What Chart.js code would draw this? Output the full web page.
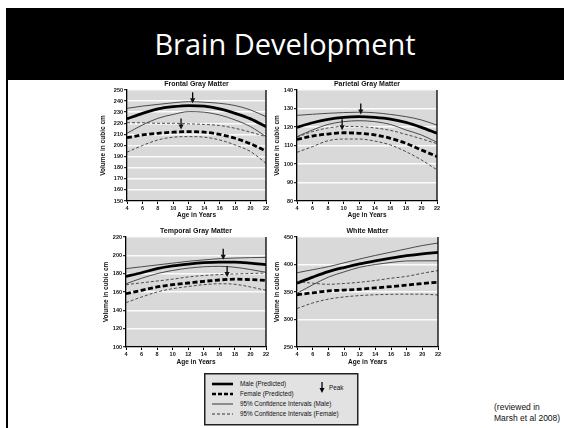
<!DOCTYPE html>
<html>
<head>
<meta charset="utf-8">
<script src="https://cdn.jsdelivr.net/npm/chart.js@4.4.0/dist/chart.umd.min.js"></script>
<style>
  html, body { margin: 0; padding: 0; background: #fff; }
  body { width: 564px; height: 428px; position: relative; overflow: hidden; }
  #banner { position: absolute; left: 6px; top: 8px; width: 558px; height: 72px; background: #000;
            color: #fff; font-family: "Open Sans", "Noto Sans", sans-serif; font-size: 29px;
            line-height: 72px; text-align: center; }
  #edge { position: absolute; left: 6px; top: 80px; width: 2px; height: 348px; background: #000; }
  canvas { position: absolute; }
  #legend { position: absolute; left: 204px; top: 373px; }
  #note { position: absolute; left: 494px; top: 402px; font-family: "Liberation Sans", Arial, sans-serif;
          font-size: 8.5px; line-height: 11px; color: #111; }
</style>
</head>
<body>
<div id="banner">Brain Development</div>
<div id="edge"></div>
<canvas id="frontal"></canvas>
<canvas id="parietal"></canvas>
<canvas id="temporal"></canvas>
<canvas id="white"></canvas>
<svg id="legend" width="156" height="54" xmlns="http://www.w3.org/2000/svg"
     font-family="Liberation Sans, Arial, sans-serif" font-size="6.3" fill="#111">
  <rect x="0.75" y="0.75" width="153" height="51" fill="#e2e2e2" stroke="#222" stroke-width="1.5"/>
  <line x1="8" y1="11" x2="29" y2="11" stroke="#000" stroke-width="2.6"/>
  <line x1="8" y1="21" x2="29" y2="21" stroke="#000" stroke-width="2.6" stroke-dasharray="4 2"/>
  <line x1="8" y1="31" x2="29" y2="31" stroke="#222" stroke-width="0.9"/>
  <line x1="8" y1="41" x2="29" y2="41" stroke="#222" stroke-width="0.9" stroke-dasharray="3 2"/>
  <text x="36" y="13.2">Male (Predicted)</text>
  <text x="36" y="23.2">Female (Predicted)</text>
  <text x="36" y="33.2">95% Confidence Intervals (Male)</text>
  <text x="36" y="43.2">95% Confidence Intervals (Female)</text>
  <line x1="118" y1="9" x2="118" y2="16" stroke="#000" stroke-width="1.3"/>
  <polygon points="115.5,15 120.5,15 118,20" fill="#000"/>
  <text x="125" y="17">Peak</text>
</svg>
<div id="note">(reviewed in<br>Marsh et al 2008)</div>

<script>
// Ages at which the fitted curves are sampled
const ages = [4, 6, 8, 10, 12, 14, 16, 18, 20, 22];

// Frontal gray matter (cubic cm)
const frontalMale        = [224, 229, 233, 235, 236, 235.5, 233, 229, 224, 217];
const frontalMaleUpper   = [233.5, 235.5, 237, 238.5, 239.5, 239, 238, 236, 232, 226];
const frontalMaleLower   = [211, 218.5, 224.5, 228, 230.5, 230, 227.5, 223, 217, 208];
const frontalFemale      = [207, 209.5, 211, 212, 212.5, 212, 210, 206.5, 201.5, 195];
const frontalFemaleUpper = [220.5, 220.5, 220, 220, 219.5, 219, 218, 215.5, 212, 208];
const frontalFemaleLower = [194, 200, 205, 207.5, 208, 207.5, 205, 200.5, 194.5, 184];
const frontalPeaks = [{ x: 12.5, y: 236 }, { x: 11, y: 212.5 }];

// Parietal gray matter
const parietalMale        = [119.8, 122.3, 124.1, 125.2, 125.6, 125.2, 124.3, 122.5, 119.8, 116.6];
const parietalMaleUpper   = [126.3, 126.9, 127.4, 127.8, 128, 127.7, 126.8, 125.6, 123.8, 121];
const parietalMaleLower   = [114.8, 118.4, 121.4, 122.9, 123.4, 122.9, 121.4, 118.4, 115.7, 111.7];
const parietalFemale      = [113.3, 115.1, 116.2, 116.9, 116.6, 115.7, 113.9, 111.2, 107.6, 104];
const parietalFemaleUpper = [114.5, 117.5, 119.5, 120.3, 120.2, 119.5, 118.2, 116, 113.6, 111];
const parietalFemaleLower = [106.3, 109.4, 112.6, 113.5, 113.5, 112.4, 110.3, 106.7, 102.2, 96.8];
const parietalPeaks = [{ x: 12.2, y: 125.6 }, { x: 9.8, y: 117 }];

// Temporal gray matter
const temporalMale        = [177, 181, 185.5, 188.5, 190.5, 192, 192.7, 192.7, 191.6, 189.8];
const temporalMaleUpper   = [185.5, 187.5, 189.5, 191.5, 193.5, 195, 196.4, 197, 197.5, 197.8];
const temporalMaleLower   = [169, 175, 180, 183.5, 186, 187.5, 188, 187, 184.5, 181.5];
const temporalFemale      = [158.2, 161.8, 165.5, 168, 169.8, 171.6, 173.1, 174, 173.5, 172.7];
const temporalFemaleUpper = [168, 170, 172, 174, 176.4, 178, 179, 179.7, 180.2, 180.7];
const temporalFemaleLower = [148.4, 154.5, 160, 163.6, 166, 168, 169, 168.4, 165.5, 161.8];
const temporalPeaks = [{ x: 16.5, y: 192.8 }, { x: 17, y: 174 }];

// White matter
const whiteMale        = [366, 377, 387, 394.5, 401, 406.5, 411.5, 416, 419.5, 422];
const whiteMaleUpper   = [385, 390.5, 396, 403, 410, 416.5, 422.5, 428.5, 434.5, 439];
const whiteMaleLower   = [347.6, 363, 377, 386.5, 395, 400, 403.7, 406.5, 406.7, 406.7];
const whiteFemale      = [345, 348.5, 352, 353.5, 355, 357.5, 359.8, 362.5, 365.5, 367.7];
const whiteFemaleUpper = [369, 366, 364, 365.5, 367.7, 371, 375, 378.5, 384, 389];
const whiteFemaleLower = [320, 330, 337, 341, 343.5, 345, 345.7, 346, 346, 344.5];
const whitePeaks = [];

const FONT = "'Liberation Sans', Arial, sans-serif";

const toPoints = vals => vals.map((v, i) => ({ x: ages[i], y: v }));

function seriesSet(male, maleUp, maleLo, female, femUp, femLo) {
  const thin = { borderColor: '#3a3a3a', borderWidth: 0.9 };
  return [
    Object.assign({ data: toPoints(maleUp) }, thin),
    Object.assign({ data: toPoints(maleLo) }, thin),
    Object.assign({ data: toPoints(femUp), borderDash: [3, 2] }, thin),
    Object.assign({ data: toPoints(femLo), borderDash: [3, 2] }, thin),
    { data: toPoints(female), borderColor: '#000', borderWidth: 2.8, borderDash: [5, 2.5] },
    { data: toPoints(male), borderColor: '#000', borderWidth: 2.8 }
  ];
}

// Grey plotting field, right frame edge, panel title and peak arrows
function panelPlugin(title, peaks) {
  return {
    id: 'panelDecor',
    beforeDraw(chart) {
      const { ctx, chartArea: a } = chart;
      ctx.save();
      ctx.fillStyle = '#d9d9d9';
      ctx.fillRect(a.left, a.top, a.right - a.left, a.bottom - a.top);
      ctx.restore();
    },
    afterDraw(chart) {
      const { ctx, chartArea: a } = chart;
      const xs = chart.scales.x, ys = chart.scales.y;
      ctx.save();
      ctx.strokeStyle = '#000';
      ctx.lineWidth = 1.3;
      ctx.beginPath();
      ctx.moveTo(a.right, a.top);
      ctx.lineTo(a.right, a.bottom);
      ctx.stroke();
      ctx.fillStyle = '#111';
      ctx.font = "bold 7px " + FONT;
      ctx.textAlign = 'center';
      ctx.textBaseline = 'middle';
      ctx.fillText(title, (a.left + a.right) / 2, a.top - 5.5);
      peaks.forEach(p => {
        const px = xs.getPixelForValue(p.x);
        const tip = ys.getPixelForValue(p.y) - 2.2;
        ctx.lineWidth = 1.3;
        ctx.beginPath();
        ctx.moveTo(px, tip - 11);
        ctx.lineTo(px, tip - 4);
        ctx.stroke();
        ctx.beginPath();
        ctx.moveTo(px - 2.6, tip - 5);
        ctx.lineTo(px + 2.6, tip - 5);
        ctx.lineTo(px, tip);
        ctx.closePath();
        ctx.fill();
      });
      ctx.restore();
    }
  };
}

function makePanel(id, canvasBox, area, xTitleY, yRange, title, datasets, peaks) {
  const el = document.getElementById(id);
  const w = canvasBox.right - canvasBox.left, h = canvasBox.bottom - canvasBox.top;
  el.width = w; el.height = h;
  el.style.left = canvasBox.left + 'px';
  el.style.top = canvasBox.top + 'px';
  const titleFont = { family: FONT, size: 6.5, weight: 'bold', lineHeight: 1.2 };
  const tickFont = { family: FONT, size: 5.5, weight: 'bold' };
  const xScaleBottom = xTitleY + 6.5 * 1.2 / 2;
  const xHeight = xScaleBottom - area.bottom;
  new Chart(el, {
    type: 'line',
    data: { datasets: datasets },
    options: {
      responsive: false,
      animation: false,
      events: [],
      layout: { padding: { left: 0, top: area.top - canvasBox.top, right: canvasBox.right - area.right,
                           bottom: canvasBox.bottom - xScaleBottom } },
      plugins: { legend: { display: false }, tooltip: { enabled: false }, title: { display: false } },
      elements: { point: { radius: 0 }, line: { cubicInterpolationMode: 'monotone', fill: false } },
      scales: {
        x: {
          type: 'linear', min: 4, max: 22,
          ticks: { stepSize: 2, font: tickFont, color: '#111', padding: 1, maxRotation: 0, autoSkip: false },
          grid: { drawOnChartArea: false, drawTicks: true, tickLength: 3, tickColor: '#000', tickWidth: 1 },
          border: { display: true, color: '#000', width: 1.3 },
          title: { display: true, text: 'Age in Years', font: titleFont, color: '#111', padding: 0 },
          afterFit(s) { s.height = xHeight; }
        },
        y: {
          min: yRange.min, max: yRange.max,
          ticks: { stepSize: yRange.step, font: tickFont, color: '#111', padding: 1 },
          grid: { color: '#fbfbfb', lineWidth: 1.4, tickLength: 3, tickColor: '#000', tickWidth: 1 },
          border: { display: true, color: '#000', width: 1.3 },
          title: { display: true, text: 'Volume in cubic cm', font: titleFont, color: '#111', padding: 0 },
          afterFit(s) { s.width = area.left - canvasBox.left; }
        }
      }
    },
    plugins: [panelPlugin(title, peaks)]
  });
}

makePanel('frontal', { left: 99, top: 74, right: 272, bottom: 222 },
  { left: 127, top: 90, right: 266, bottom: 201 }, 215,
  { min: 150, max: 250, step: 10 }, 'Frontal Gray Matter',
  seriesSet(frontalMale, frontalMaleUpper, frontalMaleLower, frontalFemale, frontalFemaleUpper, frontalFemaleLower),
  frontalPeaks);

makePanel('parietal', { left: 273, top: 74, right: 444, bottom: 222 },
  { left: 297, top: 90, right: 437, bottom: 201 }, 215,
  { min: 80, max: 140, step: 10 }, 'Parietal Gray Matter',
  seriesSet(parietalMale, parietalMaleUpper, parietalMaleLower, parietalFemale, parietalFemaleUpper, parietalFemaleLower),
  parietalPeaks);

makePanel('temporal', { left: 102, top: 222, right: 272, bottom: 369 },
  { left: 126, top: 237, right: 266, bottom: 347 }, 362,
  { min: 100, max: 220, step: 20 }, 'Temporal Gray Matter',
  seriesSet(temporalMale, temporalMaleUpper, temporalMaleLower, temporalFemale, temporalFemaleUpper, temporalFemaleLower),
  temporalPeaks);

makePanel('white', { left: 273, top: 222, right: 444, bottom: 369 },
  { left: 297, top: 237, right: 438, bottom: 347 }, 362,
  { min: 250, max: 450, step: 50 }, 'White Matter',
  seriesSet(whiteMale, whiteMaleUpper, whiteMaleLower, whiteFemale, whiteFemaleUpper, whiteFemaleLower),
  whitePeaks);
</script>
</body>
</html>
